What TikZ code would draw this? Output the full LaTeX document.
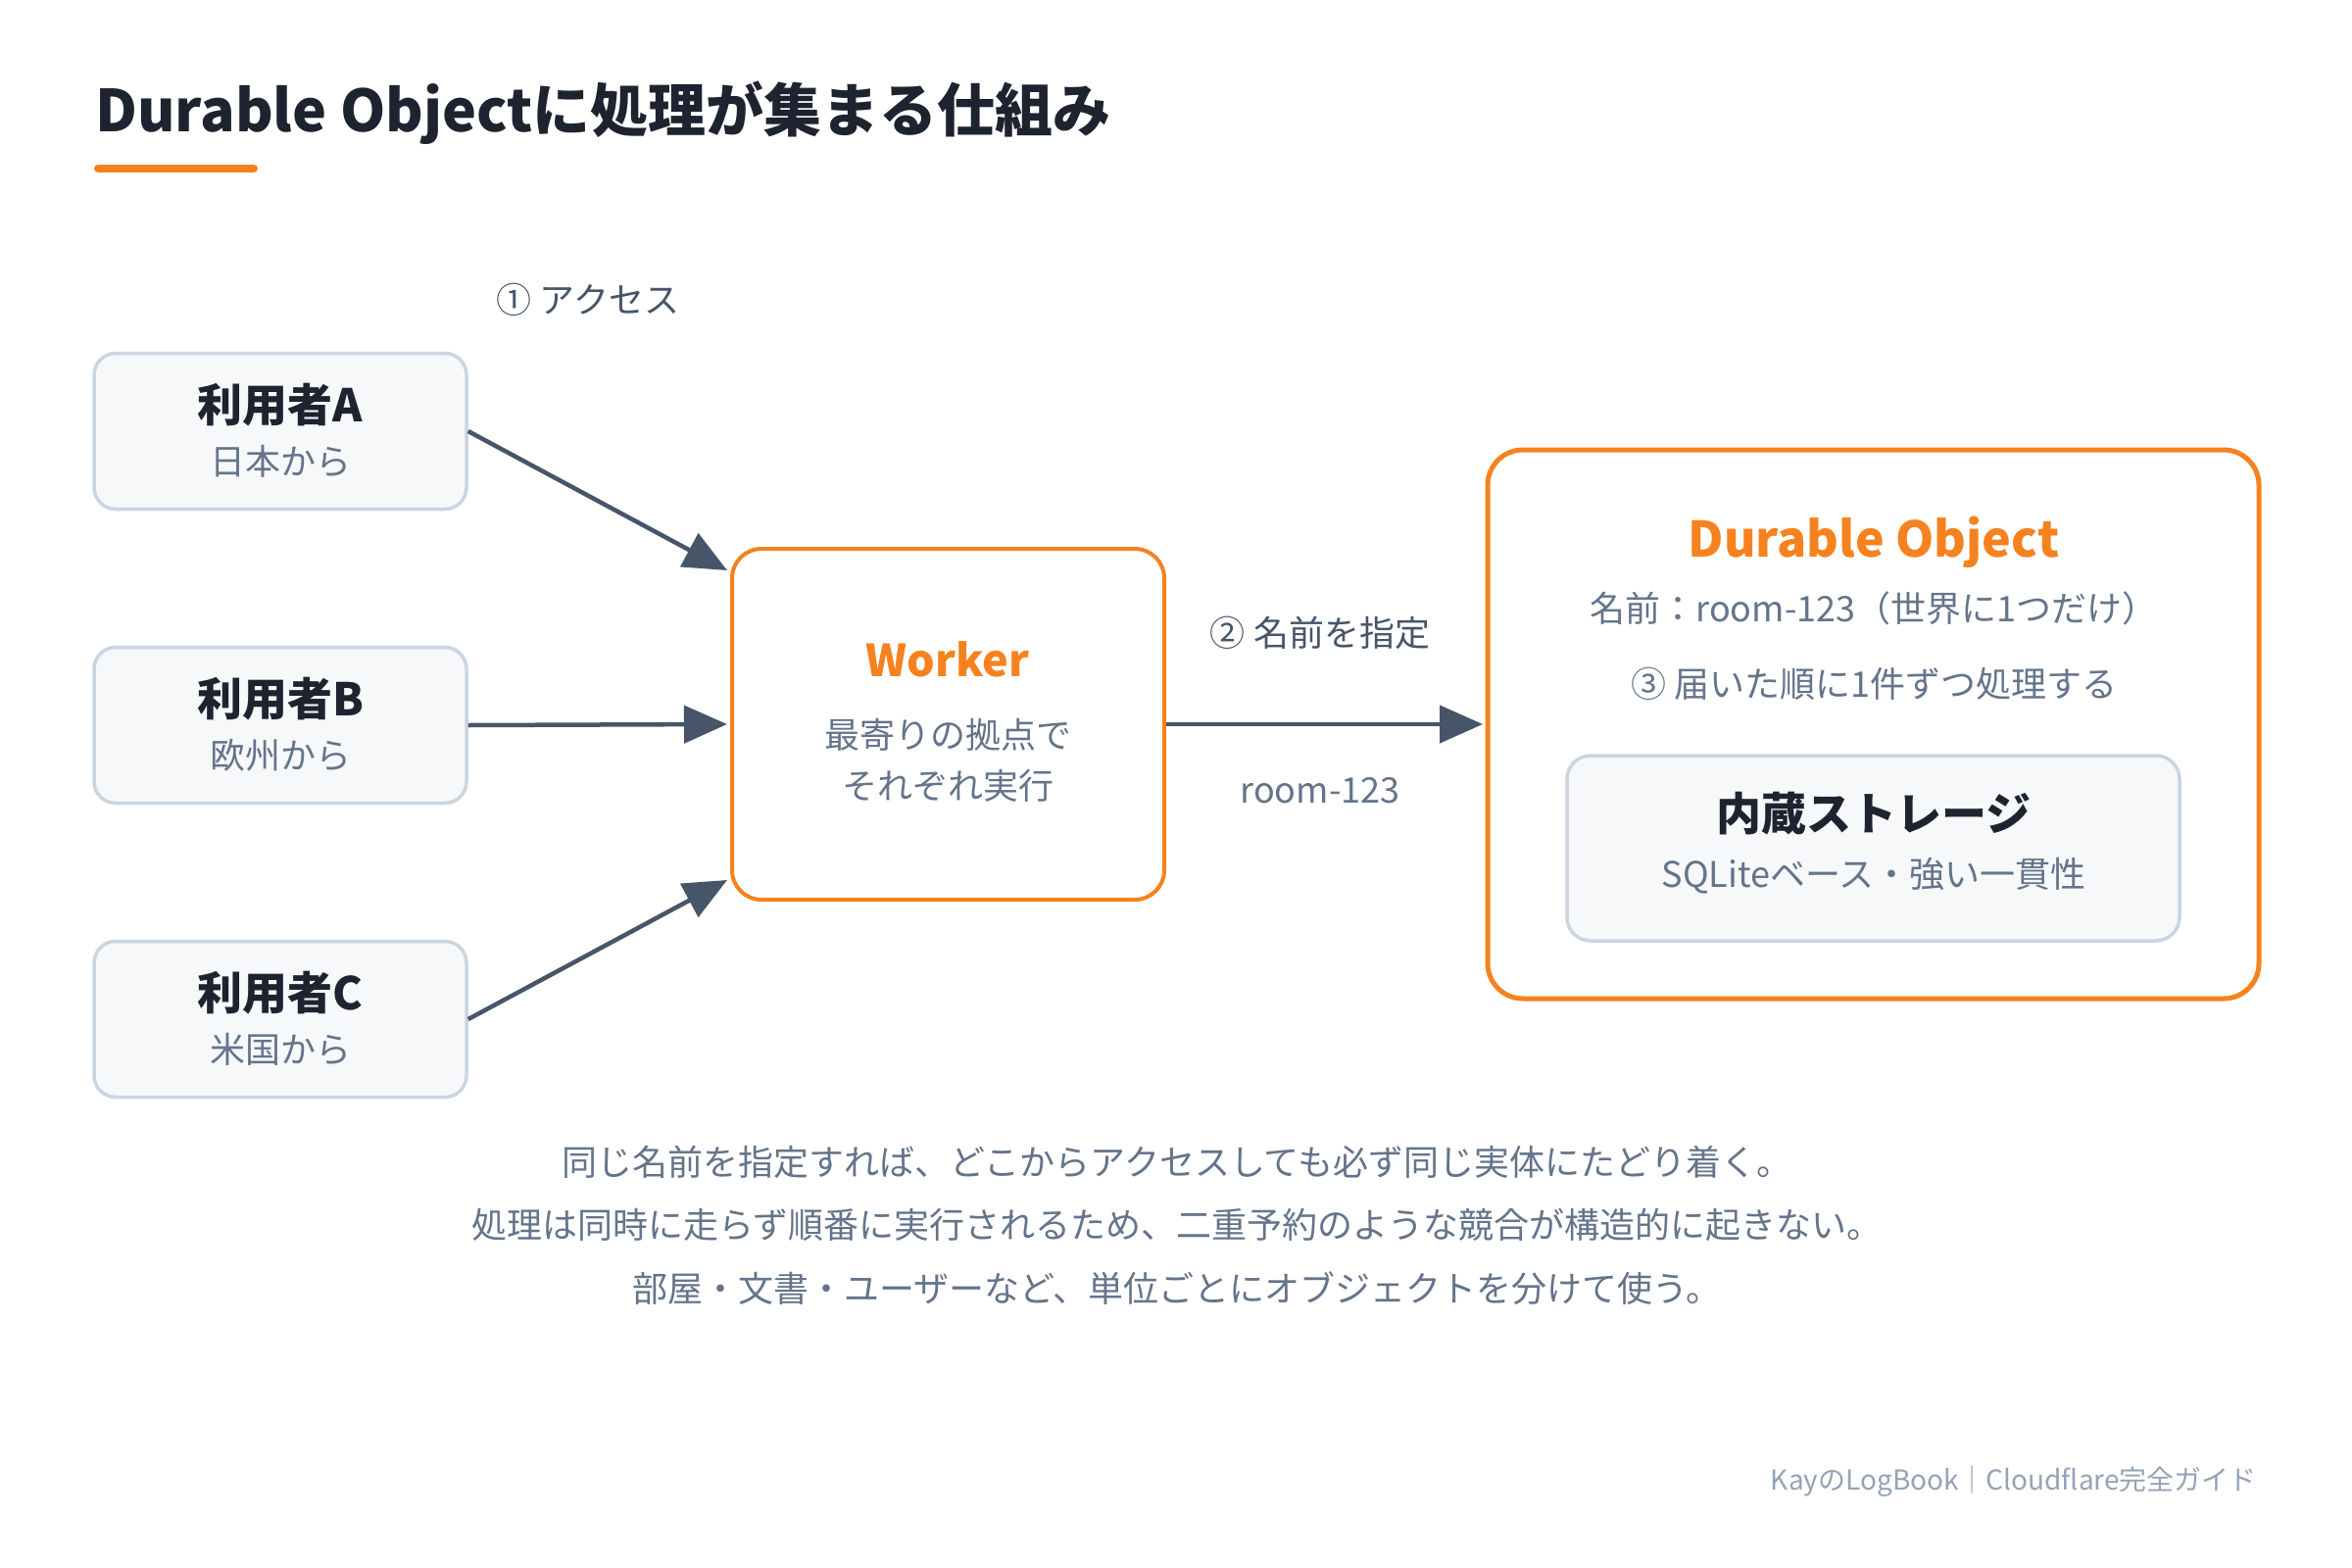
\documentclass[tikz,border=0pt]{standalone}
\usepackage{fontspec}
\setmainfont{Noto Sans CJK JP}
\usetikzlibrary{arrows.meta}
\definecolor{cforange}{HTML}{F6821F}
\definecolor{darktext}{HTML}{1E2330}
\definecolor{arrowcol}{HTML}{475569}
\definecolor{graytext}{HTML}{64748B}
\definecolor{boxfill}{HTML}{F6F8FA}
\definecolor{boxline}{HTML}{CBD5E1}
\definecolor{foottext}{HTML}{94A3B8}
\newcommand{\fsz}[1]{\fontsize{#1}{#1}\selectfont}
\tikzset{
  userbox/.style={draw=boxline, fill=boxfill, line width=3.5pt, rounded corners=22pt,
    minimum width=380pt, minimum height=159pt, inner sep=0pt},
  workerbox/.style={draw=cforange, fill=white, line width=4pt, rounded corners=30pt,
    minimum width=441pt, minimum height=358pt, inner sep=0pt},
  dobox/.style={draw=cforange, fill=white, line width=5pt, rounded corners=36pt,
    minimum width=787pt, minimum height=560pt, inner sep=0pt},
  storebox/.style={draw=boxline, fill=boxfill, line width=3.5pt, rounded corners=24pt,
    minimum width=625pt, minimum height=189pt, inner sep=0pt},
  headtxt/.style={inner sep=0pt, text=darktext, font=\fsz{46}\bfseries},
  subtxt/.style={inner sep=0pt, text=graytext, font=\fsz{36}},
  orangetxt/.style={inner sep=0pt, text=cforange, font=\bfseries},
  labtxt/.style={inner sep=0pt, text=arrowcol, font=\fsz{36}},
  conn/.style={draw=arrowcol, line width=4.5pt, -{Triangle[length=44pt,width=38pt]}},
}
\begin{document}
\begin{tikzpicture}[x=1pt,y=-1pt]
\useasboundingbox[fill=white] (0,0) rectangle (2400,1600);

% title
\node[anchor=base west, inner sep=0pt, text=darktext, font=\fsz{59}\bfseries] (title) at (97,135) {Durable Objectに処理が集まる仕組み};
\draw[cforange, line width=8pt, line cap=round] (100,172) -- (259,172);

% user boxes
\node[userbox] (ua) at (286,440) {};
\node[userbox] (ub) at (286,740) {};
\node[userbox] (uc) at (286,1040) {};
\node[headtxt] (uat) at (286,413) {利用者A};
\node[subtxt]  (uas) at (286,471) {日本から};
\node[headtxt] (ubt) at (286,713) {利用者B};
\node[subtxt]  (ubs) at (286,771) {欧州から};
\node[headtxt] (uct) at (286,1013) {利用者C};
\node[subtxt]  (ucs) at (286,1071) {米国から};

% worker
\node[workerbox] (w) at (967.5,739) {};
\node[orangetxt, font=\fsz{45}\bfseries] (wt) at (967,673) {Worker};
\node[subtxt] (ws1) at (967,750) {最寄りの拠点で};
\node[subtxt] (ws2) at (967,802) {それぞれ実行};

% durable object
\node[dobox] (do) at (1911.5,739) {};
\node[orangetxt, font=\fsz{50}\bfseries] (dot) at (1912,553) {Durable Object};
\node[subtxt] (dos1) at (1912,621) {名前：room-123（世界に1つだけ）};
\node[subtxt] (dos2) at (1912,698) {③ 届いた順に1件ずつ処理する};
\node[storebox] (st) at (1911.5,865.5) {};
\node[headtxt] (stt) at (1912,830) {内蔵ストレージ};
\node[subtxt] (sts) at (1912,894) {SQLiteベース・強い一貫性};

% connectors
\coordinate (wa) at (742,582);
\coordinate (wb) at (742,739);
\coordinate (wc) at (742,898);
\coordinate (dl) at (1513,739);
\draw[conn] (ua.east) -- (wa);
\draw[conn] (ub.east) -- (wb);
\draw[conn] (uc.east) -- (wc);
\draw[conn] (w.east) -- (dl);

% labels
\node[labtxt] (l1) at (600,306) {① アクセス};
\node[labtxt] (l2) at (1347,646) {② 名前を指定};
\node[subtxt] (l3) at (1347,807) {room-123};

% bottom notes
\node[subtxt] (n1) at (1201,1186) {同じ名前を指定すれば、どこからアクセスしても必ず同じ実体にたどり着く。};
\node[subtxt] (n2) at (1201,1250) {処理は同時に走らず順番に実行されるため、二重予約のような競合が構造的に起きない。};
\node[subtxt] (n3) at (1201,1315) {部屋・文書・ユーザーなど、単位ごとにオブジェクトを分けて使う。};

% footer
\node[anchor=east, inner sep=0pt, text=foottext, font=\fsz{28}] (foot) at (2303,1512) {KayのLogBook｜Cloudflare完全ガイド};
\end{tikzpicture}
\end{document}
